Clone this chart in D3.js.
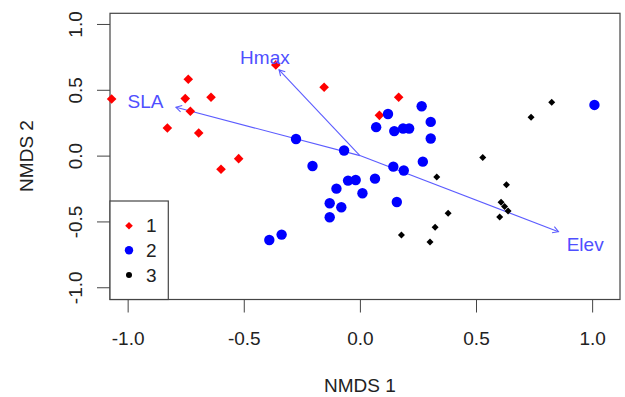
<!DOCTYPE html>
<html><head><meta charset="utf-8">
<script src="https://cdn.jsdelivr.net/npm/d3@7"></script>
<style>html,body{margin:0;padding:0;background:#fff;} svg{display:block;font-family:"Liberation Sans",Arial,sans-serif;}</style>
</head><body>
<script>
// Group 1 (red diamonds)
const g1x = [-1.069,-0.739,-0.752,-0.641,-0.730,-0.829,-0.694,-0.522,-0.598,-0.362,-0.154,0.167,0.084];
const g1y = [0.430,0.580,0.433,0.443,0.337,0.210,0.172,-0.023,-0.104,0.689,0.519,0.443,0.306];
// Group 2 (blue circles)
const g2x = [0.266,0.121,0.070,0.148,0.186,0.212,0.305,0.305,-0.275,-0.068,-0.204,0.144,0.189,0.271,0.065,-0.051,-0.018,-0.101,0.011,-0.130,-0.080,-0.130,0.159,-0.390,-0.337,1.010];
const g2y = [0.375,0.316,0.216,0.186,0.206,0.206,0.256,0.130,0.126,0.039,-0.079,-0.084,-0.113,-0.046,-0.175,-0.190,-0.185,-0.251,-0.286,-0.362,-0.392,-0.468,-0.352,-0.641,-0.600,0.385];
// Group 3 (black small diamonds)
const g3x = [0.826,0.737,0.529,0.331,0.631,0.608,0.623,0.638,0.602,0.380,0.324,0.302,0.179];
const g3y = [0.405,0.291,-0.014,-0.162,-0.221,-0.354,-0.386,-0.420,-0.466,-0.438,-0.544,-0.656,-0.603];
// Fitted vectors
const vecNames = ["SLA","Hmax","Elev"];
const vecX = [-0.792,-0.348,0.855];
const vecY = [0.367,0.651,-0.578];
const labX = [-0.923,-0.409,0.970];
const labY = [0.410,0.747,-0.679];
// Axes
const xTicks = [-1.0,-0.5,0.0,0.5,1.0];
const yTicks = [-1.0,-0.5,0.0,0.5,1.0];
const legendLabels = ["1","2","3"];
const xlim = [-1.076,1.12], ylim = [-1.093,1.081];

const W=625,H=397;
const L=110,R=620,T=13.3,B=299.5;
const x = d3.scaleLinear().domain(xlim).range([L,R]);
const y = d3.scaleLinear().domain(ylim).range([B,T]);
const svg = d3.select("body").append("svg").attr("width",W).attr("height",H);

const axisCol="#444", textCol="#222";
const fs=19;

// x axis
const xa = svg.append("g").attr("transform",`translate(0,${B})`)
  .call(d3.axisBottom(x).tickValues(xTicks).tickSize(13).tickFormat(d3.format(".1f")));
xa.select(".domain").remove();
xa.selectAll("line").attr("stroke",axisCol);
xa.selectAll("text").attr("fill",textCol).attr("font-size",fs).attr("dy",null).attr("y",45.5)
  .style("font-family","Liberation Sans, Arial, sans-serif").text(d=>d3.format(".1f")(d).replace("−","-"));

// y axis
const ya = svg.append("g").attr("transform",`translate(${L},0)`)
  .call(d3.axisLeft(y).tickValues(yTicks).tickSize(13).tickFormat(d3.format(".1f")));
ya.select(".domain").remove();
ya.selectAll("line").attr("stroke",axisCol);
ya.selectAll("text").attr("fill",textCol).attr("font-size",fs)
  .attr("x",null).attr("dy",null).attr("text-anchor","middle")
  .style("font-family","Liberation Sans, Arial, sans-serif")
  .attr("transform","translate(-28,0) rotate(-90)")
  .text(d=>d3.format(".1f")(d).replace("−","-"));

// titles
svg.append("text").attr("x",x(0)).attr("y",392).attr("text-anchor","middle")
  .attr("font-size",fs).attr("fill",textCol).text("NMDS 1");
svg.append("text").attr("transform",`translate(33,156) rotate(-90)`).attr("text-anchor","middle")
  .attr("font-size",fs).attr("fill",textCol).text("NMDS 2");

// box
svg.append("rect").attr("x",L).attr("y",T).attr("width",R-L).attr("height",B-T)
  .attr("fill","none").attr("stroke",axisCol).attr("stroke-width",1.2);

const plot = svg.append("g");
const diamond = (s)=>`M0,${-s}L${s},0L0,${s}L${-s},0Z`;

// vectors
const vcol="#5c5cff";
const ox=x(0), oy=y(0);
vecNames.forEach((n,i)=>{
  const ex=x(vecX[i]), ey=y(vecY[i]);
  plot.append("line").attr("x1",ox).attr("y1",oy).attr("x2",ex).attr("y2",ey)
    .attr("stroke",vcol).attr("stroke-width",1.1);
  const ang=Math.atan2(ey-oy,ex-ox), hl=6.5, ha=Math.PI/6;
  const p1=[ex-hl*Math.cos(ang-ha), ey-hl*Math.sin(ang-ha)];
  const p2=[ex-hl*Math.cos(ang+ha), ey-hl*Math.sin(ang+ha)];
  plot.append("path").attr("d",`M${p1[0]},${p1[1]}L${ex},${ey}L${p2[0]},${p2[1]}`)
    .attr("fill","none").attr("stroke",vcol).attr("stroke-width",1.1);
});

// points
const g3 = g3x.map((v,i)=>[v,g3y[i]]);
const g2 = g2x.map((v,i)=>[v,g2y[i]]);
const g1 = g1x.map((v,i)=>[v,g1y[i]]);
plot.selectAll(".p1").data(g1).enter().append("path")
  .attr("d",diamond(4.8)).attr("transform",d=>`translate(${x(d[0])},${y(d[1])})`).attr("fill","#ff0000");
plot.selectAll(".p2").data(g2).enter().append("circle")
  .attr("cx",d=>x(d[0])).attr("cy",d=>y(d[1])).attr("r",5.2).attr("fill","#0000ff");
plot.selectAll(".p3").data(g3).enter().append("path")
  .attr("d",diamond(3.5)).attr("transform",d=>`translate(${x(d[0])},${y(d[1])})`).attr("fill","#000");

// vector labels
vecNames.forEach((n,i)=>{
  plot.append("text").attr("x",x(labX[i])).attr("y",y(labY[i])).attr("text-anchor","middle")
    .attr("dominant-baseline","central").attr("font-size",fs).attr("fill","#4f4fff").text(n);
});

// legend
const lg = svg.append("g");
lg.append("rect").attr("x",L).attr("y",201).attr("width",58.3).attr("height",B-201)
  .attr("fill","#fff").attr("stroke",axisCol).attr("stroke-width",1.2);
const legY=[225.7,250.3,275];
const legCol=["#ff0000","#0000ff","#000"];
legendLabels.forEach((t,i)=>{
  if(i===0) lg.append("path").attr("d",diamond(3.8)).attr("transform",`translate(129,${legY[i]})`).attr("fill",legCol[i]);
  else if(i===1) lg.append("circle").attr("cx",129).attr("cy",legY[i]).attr("r",4.2).attr("fill",legCol[i]);
  else lg.append("circle").attr("cx",129).attr("cy",legY[i]).attr("r",3).attr("fill",legCol[i]);
  lg.append("text").attr("x",146).attr("y",legY[i]).attr("dominant-baseline","central")
    .attr("font-size",fs).attr("fill",textCol).text(t);
});
</script>
</body></html>
